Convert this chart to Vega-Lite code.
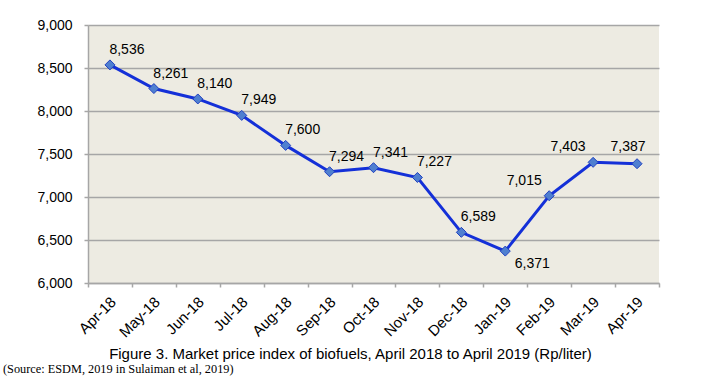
{
  "$schema": "https://vega.github.io/schema/vega-lite/v6.json",
  "width": 571,
  "height": 258,
  "autosize": "none",
  "padding": {"left": 88, "top": 25, "right": 51, "bottom": 97},
  "background": "#FFFFFF",
  "view": {"fill": "#EDEBE2", "stroke": null},
  "title": {
    "text": "(Source: ESDM, 2019 in Sulaiman et al, 2019)",
    "orient": "bottom",
    "anchor": "start",
    "frame": "group",
    "dx": -85,
    "offset": 2,
    "font": "Liberation Serif",
    "fontSize": 12.3,
    "fontWeight": "normal",
    "color": "#000000"
  },
  "data": {
    "values": [
      {"month": "Apr-18", "price": 8536},
      {"month": "May-18", "price": 8261},
      {"month": "Jun-18", "price": 8140},
      {"month": "Jul-18", "price": 7949},
      {"month": "Aug-18", "price": 7600},
      {"month": "Sep-18", "price": 7294},
      {"month": "Oct-18", "price": 7341},
      {"month": "Nov-18", "price": 7227},
      {"month": "Dec-18", "price": 6589},
      {"month": "Jan-19", "price": 6371},
      {"month": "Feb-19", "price": 7015},
      {"month": "Mar-19", "price": 7403},
      {"month": "Apr-19", "price": 7387}
    ]
  },
  "encoding": {
    "x": {
      "field": "month",
      "type": "ordinal",
      "sort": null,
      "scale": {"type": "band", "paddingInner": 0, "paddingOuter": 0},
      "axis": {
        "title": "Figure 3. Market price index of biofuels, April 2018 to April 2019 (Rp/liter)",
        "titleFont": "Liberation Sans",
        "titleFontSize": 15,
        "titleFontWeight": "normal",
        "titleColor": "#000000",
        "titleX": 262,
        "titleY": 70,
        "titleBaseline": "middle",
        "titleAnchor": "middle",
        "tickBand": "extent",
        "grid": false,
        "labelAngle": -45,
        "labelFont": "Liberation Sans",
        "labelFontSize": 15,
        "labelColor": "#000000",
        "labelPadding": 7,
        "labelOffset": -2,
        "domainColor": "#A6A6A6",
        "domainWidth": 1.5,
        "tickColor": "#A6A6A6",
        "tickWidth": 1.5,
        "tickSize": 4
      }
    },
    "y": {
      "field": "price",
      "type": "quantitative",
      "scale": {"domain": [6000, 9000], "nice": false, "zero": false},
      "axis": {
        "title": null,
        "values": [6000, 6500, 7000, 7500, 8000, 8500, 9000],
        "labelExpr": "format(datum.value, ',')",
        "grid": true,
        "gridColor": "#A6A6A6",
        "gridWidth": 1.5,
        "labelFont": "Liberation Sans",
        "labelFontSize": 14,
        "labelColor": "#000000",
        "labelPadding": 12,
        "domainColor": "#A6A6A6",
        "domainWidth": 1.5,
        "tickColor": "#A6A6A6",
        "tickWidth": 1.5,
        "tickSize": 4
      }
    }
  },
  "layer": [
    {
      "mark": {"type": "line", "color": "#1430D8", "strokeWidth": 3}
    },
    {
      "mark": {"type": "point", "shape": "diamond", "filled": true, "size": 100, "fill": "#4F7FD0", "stroke": "#2040C0", "strokeWidth": 1, "opacity": 1}
    },
    {
      "transform": [{"filter": {"field": "month", "oneOf": ["Apr-18", "May-18", "Jun-18", "Jul-18", "Aug-18", "Sep-18", "Oct-18", "Nov-18", "Dec-18"]}}],
      "mark": {"type": "text", "font": "Liberation Sans", "fontSize": 14, "color": "#000000", "dx": 17, "dy": -15},
      "encoding": {"text": {"field": "price", "type": "quantitative", "format": ","}}
    },
    {
      "transform": [{"filter": {"field": "month", "oneOf": ["Jan-19"]}}],
      "mark": {"type": "text", "font": "Liberation Sans", "fontSize": 14, "color": "#000000", "dx": 27, "dy": 13},
      "encoding": {"text": {"field": "price", "type": "quantitative", "format": ","}}
    },
    {
      "transform": [{"filter": {"field": "month", "oneOf": ["Feb-19", "Mar-19"]}}],
      "mark": {"type": "text", "font": "Liberation Sans", "fontSize": 14, "color": "#000000", "dx": -25, "dy": -15},
      "encoding": {"text": {"field": "price", "type": "quantitative", "format": ","}}
    },
    {
      "transform": [{"filter": {"field": "month", "oneOf": ["Apr-19"]}}],
      "mark": {"type": "text", "font": "Liberation Sans", "fontSize": 14, "color": "#000000", "dx": -9, "dy": -17},
      "encoding": {"text": {"field": "price", "type": "quantitative", "format": ","}}
    }
  ]
}
